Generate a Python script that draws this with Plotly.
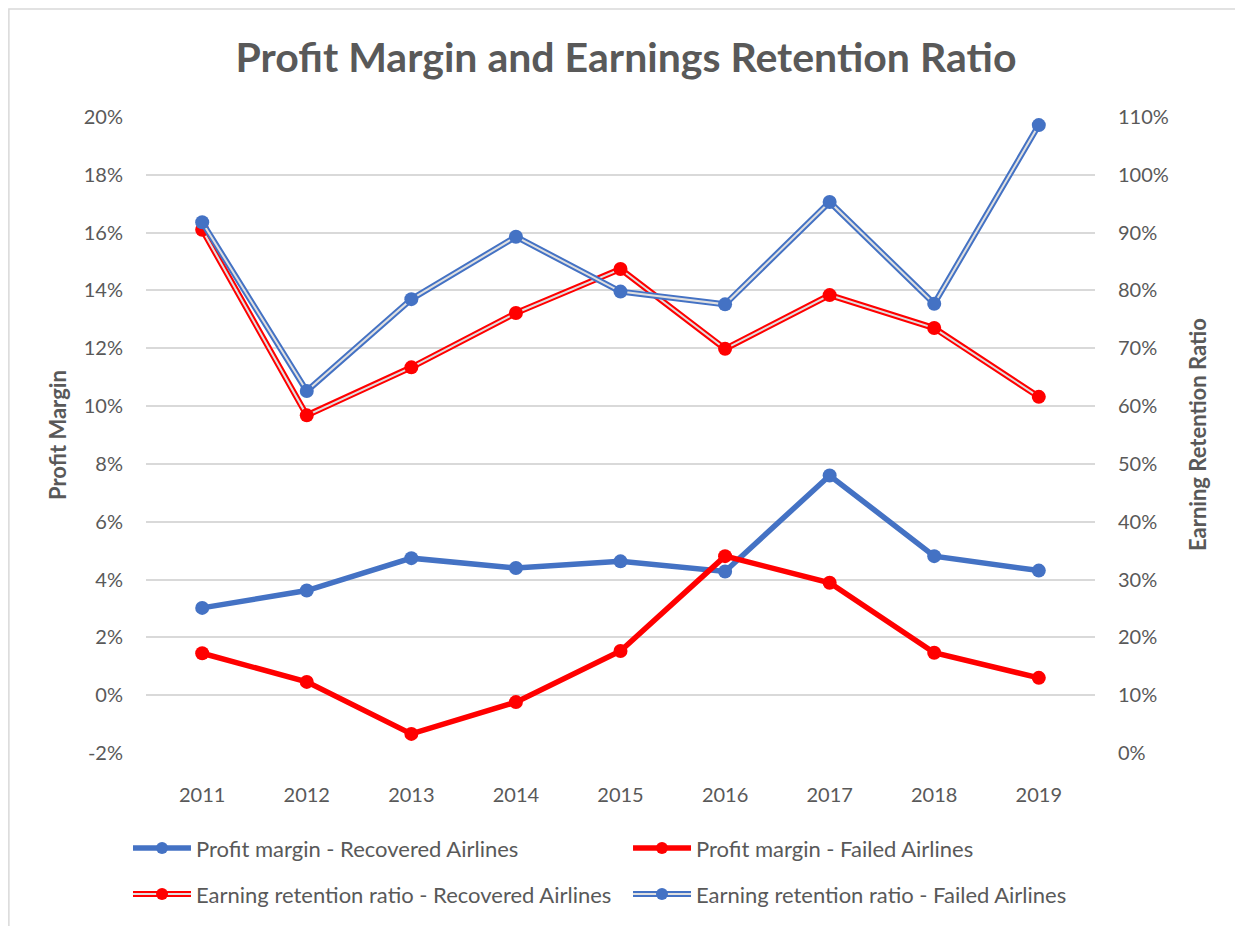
import plotly.graph_objects as go

years = ["2011", "2012", "2013", "2014", "2015", "2016", "2017", "2018", "2019"]
pm_recovered = [0.0302, 0.0362, 0.0474, 0.0440, 0.0463, 0.0428, 0.0760, 0.0481, 0.0431]
pm_failed = [0.0145, 0.0046, -0.0134, -0.0024, 0.0153, 0.0481, 0.0389, 0.0147, 0.0060]
err_recovered = [0.905, 0.584, 0.667, 0.761, 0.837, 0.699, 0.792, 0.735, 0.616]
err_failed = [0.918, 0.626, 0.785, 0.893, 0.798, 0.776, 0.953, 0.777, 1.086]

left_tick_vals = [-0.02, 0.0, 0.02, 0.04, 0.06, 0.08, 0.10, 0.12, 0.14, 0.16, 0.18, 0.20]
left_tick_text = ["-2%", "0%", "2%", "4%", "6%", "8%", "10%", "12%", "14%", "16%", "18%", "20%"]
right_tick_vals = [0.0, 0.1, 0.2, 0.3, 0.4, 0.5, 0.6, 0.7, 0.8, 0.9, 1.0, 1.1]
right_tick_text = ["0%", "10%", "20%", "30%", "40%", "50%", "60%", "70%", "80%", "90%", "100%", "110%"]

names = [
    "Profit margin - Recovered Airlines",
    "Profit margin - Failed Airlines",
    "Earning retention ratio - Recovered Airlines",
    "Earning retention ratio - Failed Airlines",
]

BLUE = "#4472C4"
RED = "#FF0000"
GRAY = "#595959"
INNER = "#E0E0E0"
FONT = "Lato, Carlito, Calibri, sans-serif"

fig = go.Figure()

# Profit margin lines (left axis)
fig.add_trace(go.Scatter(x=years, y=pm_recovered, mode="lines+markers", name=names[0],
                         line=dict(color=BLUE, width=5.5), marker=dict(color=BLUE, size=14),
                         showlegend=False, yaxis="y"))
fig.add_trace(go.Scatter(x=years, y=pm_failed, mode="lines+markers", name=names[1],
                         line=dict(color=RED, width=5.5), marker=dict(color=RED, size=14),
                         showlegend=False, yaxis="y"))

# Earning retention ratio double lines (right axis)
for vals, col, nm in [(err_recovered, RED, names[2]), (err_failed, BLUE, names[3])]:
    fig.add_trace(go.Scatter(x=years, y=vals, mode="lines", name=nm,
                             line=dict(color=col, width=6), showlegend=False, yaxis="y2"))
    fig.add_trace(go.Scatter(x=years, y=vals, mode="lines", name=nm,
                             line=dict(color=INNER, width=2), showlegend=False, yaxis="y2"))
    fig.add_trace(go.Scatter(x=years, y=vals, mode="markers", name=nm,
                             marker=dict(color=col, size=14), showlegend=False, yaxis="y2"))

# Manual legend (paper coordinates)
shapes = []
annotations = []
legend_items = [
    (names[0], BLUE, False, 0, 0),
    (names[1], RED, False, 1, 0),
    (names[2], RED, True, 0, 1),
    (names[3], BLUE, True, 1, 1),
]
col_x = [(-0.0137, 0.0474, 0.0169, 0.0506), (0.5132, 0.5743, 0.5437, 0.5774)]
row_y = [-0.1494, -0.2217]
for nm, col, double, c, r in legend_items:
    x0, x1, xm, xt = col_x[c]
    y = row_y[r]
    if double:
        shapes.append(dict(type="line", xref="paper", yref="paper", x0=x0, x1=x1, y0=y, y1=y,
                           line=dict(color=col, width=6)))
        shapes.append(dict(type="line", xref="paper", yref="paper", x0=x0, x1=x1, y0=y, y1=y,
                           line=dict(color=INNER, width=2)))
    else:
        shapes.append(dict(type="line", xref="paper", yref="paper", x0=x0, x1=x1, y0=y, y1=y,
                           line=dict(color=col, width=5.5)))
    shapes.append(dict(type="circle", xref="paper", yref="paper", xsizemode="pixel", ysizemode="pixel",
                       xanchor=xm, yanchor=y, x0=-6, x1=6, y0=-6, y1=6,
                       fillcolor=col, line=dict(color=col, width=0)))
    annotations.append(dict(text=nm, xref="paper", yref="paper", x=xt, y=y, xanchor="left",
                            yanchor="middle", showarrow=False,
                            font=dict(family=FONT, size=22, color=GRAY)))

# Chart border
shapes.append(dict(type="rect", xref="paper", yref="paper", x0=-0.1445, x1=1.17, y0=-0.29, y1=1.1698,
                   line=dict(color="#D9D9D9", width=1.5), fillcolor="rgba(0,0,0,0)", layer="below"))

# Axis titles
annotations.append(dict(text="<b>Profit Margin</b>", xref="paper", yref="paper", x=-0.0938, y=0.5,
                        textangle=-90, showarrow=False, xanchor="center", yanchor="middle",
                        font=dict(family=FONT, size=22, color=GRAY)))
annotations.append(dict(text="<b>Earning Retention Ratio</b>", xref="paper", yref="paper", x=1.1075, y=0.5,
                        textangle=-90, showarrow=False, xanchor="center", yanchor="middle",
                        font=dict(family=FONT, size=22, color=GRAY)))

fig.update_layout(
    width=1235, height=918,
    margin=dict(l=138, r=148, t=109, b=173),
    paper_bgcolor="white", plot_bgcolor="white",
    title=dict(text="<b>Profit Margin and Earnings Retention Ratio</b>", x=0.5004, xanchor="center",
               y=0.9455, yanchor="middle", font=dict(family=FONT, size=41, color=GRAY)),
    font=dict(family=FONT, size=20, color=GRAY),
    xaxis=dict(type="category", showgrid=False, zeroline=False, showline=False,
               ticks="", ticklabelstandoff=28, tickfont=dict(size=20, color=GRAY)),
    yaxis=dict(range=[-0.02, 0.20], tickvals=left_tick_vals, ticktext=left_tick_text, showgrid=True,
               gridcolor="#D9D9D9", gridwidth=1.5, zeroline=False, showline=False,
               ticks="", ticklabelstandoff=22, tickfont=dict(size=20, color=GRAY)),
    yaxis2=dict(range=[0, 1.10], tickvals=right_tick_vals, ticktext=right_tick_text, overlaying="y",
                side="right", showgrid=False, zeroline=False, showline=False, ticks="",
                ticklabelstandoff=22, tickfont=dict(size=20, color=GRAY)),
    shapes=shapes,
    annotations=annotations,
    hovermode=False,
)

fig.write_html("out.html")
